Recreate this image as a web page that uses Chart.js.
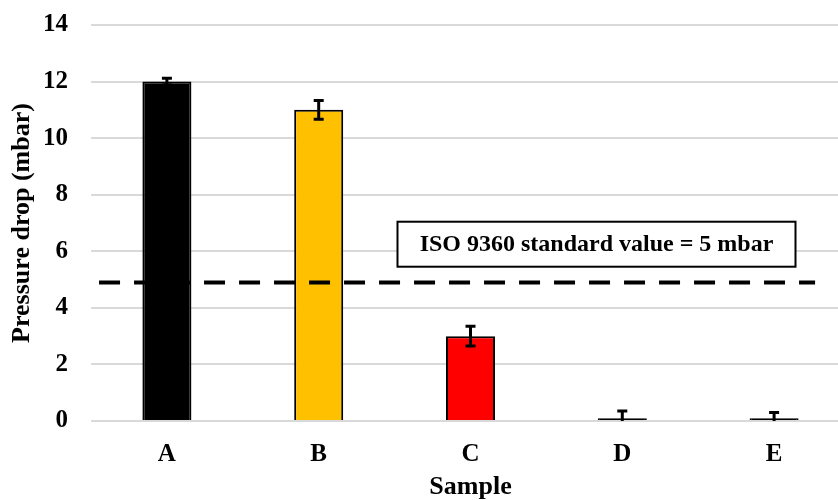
<!DOCTYPE html>
<html>
<head>
<meta charset="utf-8">
<script src="https://cdn.jsdelivr.net/npm/chart.js@4.4.1/dist/chart.umd.min.js"></script>
<style>
  html, body { margin: 0; padding: 0; background: #fff; overflow: hidden; }
  #wrap { width: 838px; height: 500px; overflow: hidden; }
  canvas { display: block; margin-top: -13px; }
</style>
</head>
<body>
<div id="wrap">
  <canvas id="chart" width="850" height="513"></canvas>
</div>
<script>
// Data
const samples = ["A", "B", "C", "D", "E"];
const pressureDrop = [12.0, 11.0, 3.0, 0.1, 0.1];
const errors = [0.12, 0.33, 0.35, 0.25, 0.2];
const barColors = ["#000000", "#FFC000", "#FF0000", "#000000", "#000000"];
const isoValue = 4.9; // where the dashed reference line sits
const isoLabel = "ISO 9360 standard value = 5 mbar";
const yTicks = [0, 2, 4, 6, 8, 10, 12, 14];

const serif = "'Liberation Serif', 'Times New Roman', serif";

// error bars on top of the bars
const errorBars = {
  id: "errorBars",
  afterDatasetsDraw(chart) {
    const { ctx, chartArea, scales: { y } } = chart;
    const meta = chart.getDatasetMeta(0);
    ctx.save();
    ctx.beginPath();
    ctx.rect(chartArea.left, chartArea.top - 20, chartArea.right - chartArea.left, chartArea.bottom - chartArea.top + 20);
    ctx.clip();
    ctx.strokeStyle = "#000";
    ctx.lineWidth = 3;
    meta.data.forEach((bar, i) => {
      const top = y.getPixelForValue(pressureDrop[i] + errors[i]);
      const bot = y.getPixelForValue(pressureDrop[i] - errors[i]);
      ctx.beginPath();
      ctx.moveTo(bar.x, top);
      ctx.lineTo(bar.x, bot);
      ctx.moveTo(bar.x - 5, top);
      ctx.lineTo(bar.x + 5, top);
      ctx.moveTo(bar.x - 5, bot);
      ctx.lineTo(bar.x + 5, bot);
      ctx.stroke();
    });
    ctx.restore();
  }
};

// dashed ISO line and its label box
const isoLine = {
  id: "isoLine",
  afterDatasetsDraw(chart) {
    const { ctx, scales: { x, y } } = chart;
    const yy = y.getPixelForValue(isoValue);
    ctx.save();
    ctx.strokeStyle = "#000";
    ctx.lineWidth = 4;
    ctx.setLineDash([21, 14]);
    ctx.beginPath();
    ctx.moveTo(x.getPixelForValue(-0.447), yy);
    ctx.lineTo(x.getPixelForValue(4.27), yy);
    ctx.stroke();

    // label box
    const cx = x.getPixelForValue(2.83);
    const cy = y.getPixelForValue(6.25);
    const w = 398, h = 45;
    ctx.setLineDash([]);
    ctx.fillStyle = "#fff";
    ctx.fillRect(cx - w / 2, cy - h / 2, w, h);
    ctx.lineWidth = 2;
    ctx.strokeRect(cx - w / 2, cy - h / 2, w, h);
    ctx.fillStyle = "#000";
    ctx.font = "bold 24px " + serif;
    ctx.textAlign = "center";
    ctx.textBaseline = "middle";
    ctx.fillText(isoLabel, cx, cy + 1);
    ctx.restore();
  }
};

new Chart(document.getElementById("chart"), {
  type: "bar",
  data: {
    labels: samples,
    datasets: [{
      data: pressureDrop,
      backgroundColor: barColors,
      borderColor: "#000",
      borderWidth: 2,
      categoryPercentage: 1,
      barPercentage: 0.323
    }]
  },
  options: {
    responsive: false,
    animation: false,
    layout: { padding: { top: 12, right: 0, left: 0, bottom: 0 } },
    plugins: {
      legend: { display: false },
      tooltip: { enabled: false }
    },
    scales: {
      x: {
        grid: { display: false },
        border: { display: false },
        ticks: {
          color: "#000",
          padding: 11,
          font: { family: serif, size: 25, weight: "bold" }
        },
        title: {
          display: true,
          text: "Sample",
          color: "#000",
          padding: { top: 0, bottom: -3 },
          font: { family: serif, size: 26, weight: "bold" }
        },
        afterFit(scale) { scale.height = 79; }
      },
      y: {
        min: 0,
        max: 14,
        afterBuildTicks(scale) { scale.ticks = yTicks.map(v => ({ value: v })); },
        grid: { color: "#d9d9d9", lineWidth: 2, drawTicks: false },
        border: { display: false },
        ticks: {
          color: "#000",
          padding: 23,
          font: { family: serif, size: 25, weight: "bold" }
        },
        title: {
          display: true,
          text: "Pressure drop (mbar)",
          color: "#000",
          padding: { top: 7, bottom: 0 },
          font: { family: serif, size: 26, weight: "bold" }
        },
        afterFit(scale) { scale.width = 91; }
      }
    }
  },
  plugins: [errorBars, isoLine]
});
</script>
</body>
</html>
